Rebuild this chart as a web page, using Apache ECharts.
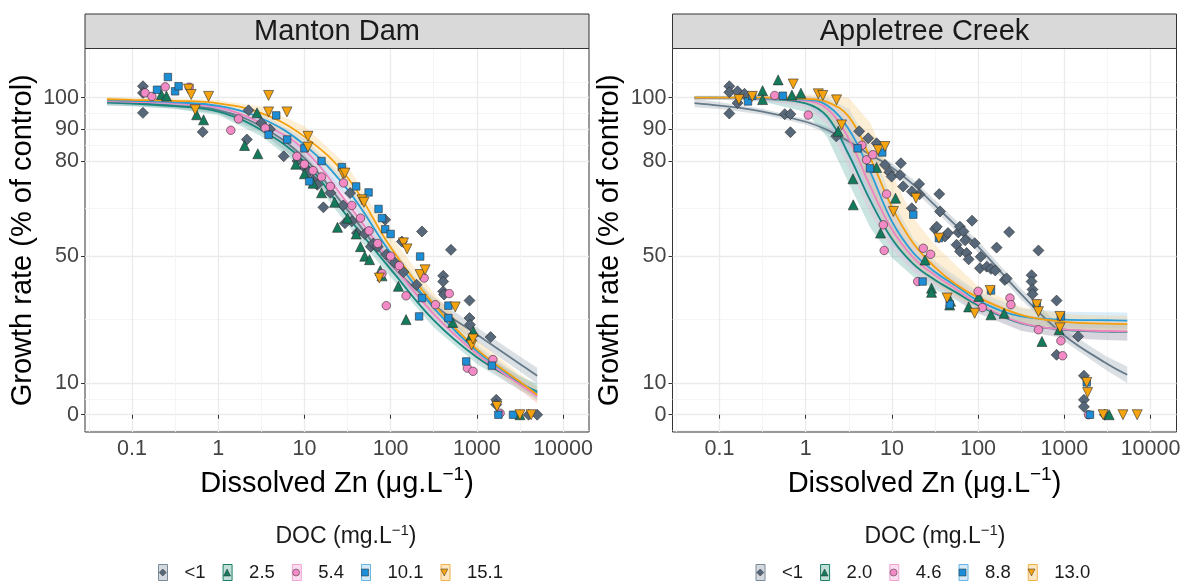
<!DOCTYPE html>
<html><head><meta charset="utf-8">
<script src="https://cdn.jsdelivr.net/npm/echarts@6/dist/echarts.min.js"></script>
<style>html,body{margin:0;padding:0;background:#fff}#c{width:1184px;height:587px}</style>
</head><body><div id="c"></div>
<script>
// ---------- tick labels / breaks ----------
const xTicks = [0.1, 1, 10, 100, 1000, 10000];
const xMinor = [0.0316, 0.316, 3.16, 31.6, 316, 3162];
const yTicks = [0, 10, 50, 80, 90, 100];
const yMinor = [-5, 5, 30, 65, 85, 95, 105];
const panelTitles = ['Manton Dam', 'Appletree Creek'];
const docLeft = ['<1', '2.5', '5.4', '10.1', '15.1'];
const docRight = ['<1', '2.0', '4.6', '8.8', '13.0'];

// ---------- Manton Dam observations [Zn ug/L, growth %] ----------
const mGray = [[0.134,103.6],[0.134,101.5],[0.134,95.2],[0.661,89.2],[2.25,96.0],[2.15,86.8],[3.16,92.0],[3.98,90.0],[5.75,81.5],[8.3,80.0],[10,78.0],[11.2,76.5],[12.6,74.0],[14.1,72.5],[16.6,65.4],[20,70.0],[28.2,66.0],[29.5,60.4],[33.9,69.9],[35.5,61.0],[40.7,57.3],[50.1,57.0],[58.9,53.0],[63.1,54.0],[70.8,53.0],[86.5,61.5],[89.1,50.5],[112,48.0],[135,54.6],[141,45.0],[200,41.0],[231,57.8],[407,43.8],[407,42.0],[407,38.9],[417,37.9],[501,52.0],[822,36.0],[822,30.5],[832,28.4],[1445,24.5],[1679,4.7],[1679,3.2],[3981,0],[5012,0]];
const mGreen = [[0.219,101.0],[0.251,100.5],[0.562,94.6],[0.676,93.0],[2.02,84.9],[2.82,95.2],[2.88,82.3],[7.94,79.0],[10,76.0],[12.6,73.0],[15.8,70.0],[22.4,67.0],[24.2,59.1],[31.6,62.0],[39.8,57.0],[44.7,53.0],[50.1,50.0],[56.9,48.9],[75.9,45.5],[79.4,43.8],[123,40.5],[151,30.0],[525,29.1],[851,24.8],[912,26.3],[3162,0]];
const mPink = [[0.142,101.5],[0.170,100.4],[0.243,103.4],[0.461,103.3],[1.40,89.7],[1.72,93.3],[3.51,90.4],[8.18,81.5],[10,79.0],[12.6,77.0],[15.8,75.0],[20,72.0],[28.4,73.1],[35.5,66.0],[44.7,62.0],[56.2,58.0],[70.8,54.0],[79.4,44.5],[89.1,34.4],[100,50.0],[126,47.0],[151,37.5],[245,43.1],[331,34.7],[479,38.2],[776,14.7],[902,13.7],[1538,17.4],[1862,0.5]];
const mBlue = [[0.195,102.5],[0.261,106.5],[0.316,102.0],[0.347,103.6],[3.84,88.3],[4.71,94.4],[6.31,86.8],[10,84.0],[11.4,73.6],[15.8,80.0],[27.2,78.1],[39.8,72.0],[55.5,70.1],[72.4,64.9],[79.4,62.0],[86.5,58.5],[100,57.0],[214,31.0],[220,49.9],[231,36.8],[468,34.4],[468,30.5],[753,16.8],[1496,15.5],[1778,0],[2630,0]];
const mOrange = [[0.452,102.7],[0.486,101.0],[0.541,96.2],[0.773,100.4],[3.84,100.7],[3.84,95.5],[6.27,95.5],[11.0,87.8],[11.0,84.4],[28.0,76.0],[29.5,76.2],[46.5,67.8],[49.0,67.0],[74.1,43.1],[141,54.2],[155,52.3],[220,44.2],[251,45.7],[562,34.0],[871,22.0],[902,23.9],[1710,2.6],[3162,0],[4266,0]];

// ---------- Appletree Creek observations ----------
const aGray = [[0.130,103.6],[0.130,101.7],[0.130,95.0],[0.162,102.0],[0.162,98.3],[0.195,101.2],[0.571,94.8],[0.665,94.8],[0.665,89.1],[2.26,87.8],[4.17,89.4],[5.31,87.2],[6.64,85.6],[8.30,78.8],[9.33,76.5],[9.93,75.1],[12.4,75.6],[12.7,79.3],[13.5,72.0],[17.0,70.4],[17.0,65.1],[20.7,72.8],[20.9,69.5],[31.6,58.6],[33.1,59.3],[35.4,69.6],[36.1,64.1],[41.2,56.2],[44.7,57.3],[56.2,53.6],[58.9,57.5],[61.5,59.3],[61.7,51.5],[67.6,57.8],[70.8,55.0],[73.5,51.0],[77.6,49.0],[85.1,61.2],[91.2,54.1],[105,46.2],[107,49.8],[126,46.7],[141,46.0],[158,45.5],[164,52.7],[204,42.5],[214,43.0],[229,57.6],[417,44.0],[417,42.0],[427,39.5],[427,38.0],[501,51.8],[813,36.0],[813,18.9],[1445,24.7],[1687,12.3],[1687,4.7],[1687,2.5],[2951,0]];
const aGreen = [[0.316,102.2],[0.316,99.4],[0.479,105.6],[0.692,100.8],[0.879,101.4],[2.38,89.4],[3.53,74.4],[3.56,66.2],[6.64,78.0],[7.38,57.3],[11.0,68.3],[24.2,48.8],[28.8,39.9],[28.8,38.6],[46.8,34.6],[47.9,35.8],[77.6,34.0],[102,37.3],[141,31.5],[200,32.0],[550,23.1],[871,26.8],[3311,0]];
const aPink = [[0.437,100.7],[1.07,94.5],[4.5,85.0],[5.08,80.4],[6.0,82.0],[7.94,59.9],[8.13,51.8],[8.67,69.6],[19.9,42.0],[23.1,52.5],[28.1,50.6],[100,38.9],[112,33.8],[234,36.8],[240,34.7],[501,26.8],[912,23.3],[955,18.6],[1905,0]];
const aBlue = [[0.214,98.8],[0.240,100.6],[0.543,100.6],[4.0,84.0],[5.56,77.7],[7.73,82.7],[17.7,63.1],[22.7,42.0],[35.1,55.7],[46.8,34.8],[141,39.2],[479,35.0],[912,31.0],[1820,10.2],[1982,0]];
const aOrange = [[0.168,99.4],[0.240,100.4],[0.716,104.3],[1.40,101.2],[1.58,100.7],[2.28,99.3],[2.61,91.4],[6.92,83.5],[8.30,84.6],[10.4,64.1],[19.0,68.3],[35.1,55.7],[43.7,36.8],[91.2,32.0],[138,39.2],[479,34.7],[501,32.5],[891,31.0],[891,27.4],[1820,10.2],[1862,7.0],[2818,0],[4786,0],[7000,0]];

// ---------- fitted curves & confidence bands ----------
const mFitX = [0.0513,0.1,0.316,1,3.16,10,31.6,100,316,1000,3162,5012];
const mFitGray   = [98.6,98.3,97.5,96.1,90.9,80.9,64.6,47.5,34.7,25.3,16.0,12.3];
const mLoGray    = [97.6,97.4,96.6,95.0,89.0,78.5,62.0,45.0,32.3,23.0,13.6,9.8];
const mHiGray    = [99.6,99.2,98.4,97.2,92.8,83.3,67.2,50.0,37.1,27.6,18.4,14.8];
const mFitGreen  = [98.4,98.1,97.3,95.6,89.8,79.8,62.5,45.9,29.8,18.1,10.0,7.3];
const mLoGreen   = [97.5,97.3,96.4,94.5,87.8,77.3,59.8,43.4,27.5,16.0,7.8,4.8];
const mHiGreen   = [99.3,98.9,98.2,96.7,91.8,82.3,65.2,48.4,32.1,20.2,12.2,9.8];
const mFitPink   = [98.9,98.7,98.2,96.9,91.9,83.5,66.7,48.3,31.7,19.2,9.5,5.8];
const mLoPink    = [98.2,98.0,97.5,96.0,90.3,81.3,64.2,46.0,29.5,17.2,7.6,3.6];
const mHiPink    = [99.6,99.4,98.9,97.8,93.5,85.7,69.2,50.6,33.9,21.2,11.4,8.0];
const mFitBlue   = [99.2,99.0,98.5,97.4,93.5,85.1,71.0,51.0,33.7,20.1,10.3,6.8];
const mLoBlue    = [98.5,98.4,97.9,96.6,92.0,83.0,68.5,48.5,31.5,18.2,8.5,4.6];
const mHiBlue    = [99.9,99.6,99.1,98.2,95.0,87.2,73.5,53.5,36.0,22.0,12.1,9.0];
const mFitOrange = [99.5,99.3,99.0,98.2,95.1,87.7,74.8,52.8,34.9,20.7,10.4,6.3];
const mLoOrange  = [98.8,98.7,98.3,97.2,93.0,84.5,71.0,49.0,31.5,18.0,8.0,3.8];
const mHiOrange  = [100.2,99.9,99.7,99.2,97.2,91.0,78.5,56.5,38.3,23.5,12.8,8.8];

const aFitX = [0.0513,0.1,0.316,1,1.78,3.16,5.62,10,17.8,31.6,56.2,100,316,1000,3162,5370];
const aFitGray   = [98.3,97.5,95.6,92.4,89.8,86.2,82.0,78.0,72.5,66.0,59.5,53.0,38.0,25.0,16.0,12.6];
const aLoGray    = [97.0,96.4,94.7,91.5,88.8,85.1,80.8,76.6,70.9,64.3,57.8,51.2,36.3,23.2,13.8,10.0];
const aHiGray    = [99.6,98.6,96.5,93.3,90.8,87.3,83.2,79.4,74.1,67.7,61.2,54.8,39.7,26.8,18.2,15.2];
const aFitGreen  = [99.9,99.9,99.6,98.2,94.0,82.0,67.5,55.5,47.5,42.5,38.5,34.5,28.8,26.8,26.2,26.1];
const aLoGreen   = [99.3,99.3,98.8,95.5,87.5,73.0,59.0,49.5,43.5,39.5,36.0,32.0,26.5,24.3,23.6,23.4];
const aHiGreen   = [100.5,100.5,100.3,100.0,98.5,90.0,76.0,61.5,51.5,45.5,41.0,37.0,31.1,29.3,28.8,28.8];
const aFitPink   = [99.9,99.9,99.7,99.0,96.5,87.0,72.0,58.5,49.5,44.0,39.5,35.0,29.0,26.9,26.4,26.3];
const aLoPink    = [99.3,99.3,99.0,97.0,91.5,78.0,63.5,52.0,45.0,40.5,36.5,32.0,26.5,24.0,23.5,23.3];
const aHiPink    = [100.5,100.5,100.4,100.5,99.5,94.0,80.5,65.0,54.0,47.5,42.5,38.0,31.5,29.8,29.3,29.3];
const aFitBlue   = [100,100,99.8,99.4,97.5,90.0,76.5,61.0,51.0,45.0,40.5,36.0,31.0,30.0,29.8,29.7];
const aLoBlue    = [99.4,99.4,99.1,97.8,93.0,81.0,67.5,54.0,46.5,41.5,37.5,33.2,28.5,27.5,27.3,27.2];
const aHiBlue    = [100.6,100.6,100.5,100.5,100.0,96.5,85.0,68.0,55.5,48.5,43.5,38.8,33.5,32.5,32.3,32.2];
const aFitOrange = [100,100,100,99.6,98.6,94.0,81.0,65.5,54.0,46.5,41.0,37.0,31.5,29.3,28.7,28.6];
const aLoOrange  = [99.4,99.4,99.3,98.0,94.5,85.0,70.0,55.0,47.0,41.5,37.0,33.5,29.0,26.8,26.2,26.0];
const aHiOrange  = [100.6,100.6,100.7,101.0,101.0,100.0,92.0,76.0,62.0,53.5,47.0,40.5,34.0,31.8,31.2,31.2];

// ---------- styles ----------
const FF = "'Liberation Sans', Arial, Helvetica, sans-serif";
const DOWN = 'path://M0,0L10,0L5,10Z';
const groups = [
  {sym:'diamond',  size:11,  fill:'#566879', line:'#667A8A', band:'#8797A6', key:'#D3D9DF', keyB:'#7A8A98'},
  {sym:'triangle', size:10,  fill:'#137A5C', line:'#16887E', band:'#4FA89C', key:'#BFDFD8', keyB:'#1B7F67'},
  {sym:'circle',   size:8.5, fill:'#F28AC6', line:'#EE84C2', band:'#F3AED8', key:'#FCDDEF', keyB:'#F2A3D2'},
  {sym:'rect',     size:7.5, fill:'#1D8DD6', line:'#2A9DD8', band:'#86C5EA', key:'#D4EAF8', keyB:'#66B5E4'},
  {sym:DOWN,       size:10,  fill:'#F5A30F', line:'#F5A00F', band:'#F7C878', key:'#FCE7C3', keyB:'#F3B14A'}
];

const panels = [
  {names: docLeft, pts:[mGray,mGreen,mPink,mBlue,mOrange], fx:mFitX,
   fit:[mFitGray,mFitGreen,mFitPink,mFitBlue,mFitOrange],
   lo:[mLoGray,mLoGreen,mLoPink,mLoBlue,mLoOrange],
   hi:[mHiGray,mHiGreen,mHiPink,mHiBlue,mHiOrange]},
  {names: docRight, pts:[aGray,aGreen,aPink,aBlue,aOrange], fx:aFitX,
   fit:[aFitGray,aFitGreen,aFitPink,aFitBlue,aFitOrange],
   lo:[aLoGray,aLoGreen,aLoPink,aLoBlue,aLoOrange],
   hi:[aHiGray,aHiGreen,aHiPink,aHiBlue,aHiOrange]}
];

const GRID_L = [85, 672.5], GRID_W = 504, GRID_T = 48.5, GRID_H = 383.5;
const X_MIN = 0.0285, X_MAX = 20000, Y_MIN = -5.45, Y_MAX = 115.5;

const grids = [], xAxes = [], yAxes = [], series = [], legends = [], graphics = [];

panels.forEach((p, gi) => {
  grids.push({left: GRID_L[gi], top: GRID_T, width: GRID_W, height: GRID_H,
    show: true, borderColor: '#333', borderWidth: 1, backgroundColor: '#fff', containLabel: false});
  xAxes.push({type:'log', logBase:10, gridIndex:gi, min:X_MIN, max:X_MAX,
    name:'Dissolved Zn (μg.L{s|−1})', nameLocation:'middle', nameGap:33,
    nameTextStyle:{fontSize:29, lineHeight:38, color:'#000', fontFamily:FF,
      rich:{s:{fontSize:19, color:'#000', fontFamily:FF, verticalAlign:'top'}}},
    axisLine:{show:false},
    axisTick:{show:true, length:4, lineStyle:{color:'#333', width:1}, customValues:xTicks},
    axisLabel:{customValues:xTicks, fontSize:21.5, color:'#444', margin:6, fontFamily:FF,
      formatter: v => String(+(+v).toPrecision(6))},
    splitLine:{show:true, lineStyle:{color:'#EBEBEB', width:1.3}}});
  xAxes.push({type:'log', logBase:10, gridIndex:gi, min:X_MIN, max:X_MAX,
    axisLine:{show:false}, axisTick:{show:false, customValues:xMinor}, axisLabel:{show:false},
    splitLine:{show:true, lineStyle:{color:'#F2F2F2', width:0.8}}});
  yAxes.push({type:'value', gridIndex:gi, min:Y_MIN, max:Y_MAX,
    name:'Growth rate (% of control)', nameLocation:'middle', nameRotate:90, nameGap:48,
    nameTextStyle:{fontSize:29, color:'#000', fontFamily:FF},
    axisLine:{show:false},
    axisTick:{show:true, length:4, lineStyle:{color:'#333', width:1}, customValues:yTicks},
    axisLabel:{customValues:yTicks, fontSize:21.5, color:'#444', margin:6, fontFamily:FF},
    splitLine:{show:true, lineStyle:{color:'#EBEBEB', width:1.3}}});
  yAxes.push({type:'value', gridIndex:gi, min:Y_MIN, max:Y_MAX,
    axisLine:{show:false}, axisTick:{show:false, customValues:yMinor}, axisLabel:{show:false},
    splitLine:{show:true, lineStyle:{color:'#F2F2F2', width:0.8}}});

  const xi = gi*2, yi = gi*2;
  groups.forEach((g, k) => {
    const xs = p.fx, lo = p.lo[k], hi = p.hi[k];
    series.push({type:'custom', name:'band-'+gi+'-'+k, xAxisIndex:xi, yAxisIndex:yi, z:1, silent:true,
      clip:true, data:[[xs[0], lo[0]]],
      renderItem:(params, api) => {
        const pts = [];
        for (let i = 0; i < xs.length; i++) pts.push(api.coord([xs[i], hi[i]]));
        for (let i = xs.length - 1; i >= 0; i--) pts.push(api.coord([xs[i], lo[i]]));
        return {type:'polygon', shape:{points:pts}, style:{fill:g.band, opacity:0.3}};
      }});
  });
  groups.forEach((g, k) => {
    series.push({type:'line', name:'fit-'+gi+'-'+k, xAxisIndex:xi, yAxisIndex:yi, z:3, silent:true,
      data: p.fx.map((x, i) => [x, p.fit[k][i]]), smooth:0.4, showSymbol:false, symbol:'none',
      lineStyle:{color:g.line, width:1.8}});
  });
  groups.forEach((g, k) => {
    series.push({type:'scatter', name:p.names[k], xAxisIndex:xi, yAxisIndex:yi, z:4, silent:true,
      data:p.pts[k], symbol:g.sym, symbolSize:g.size,
      itemStyle:{color:g.fill, borderColor:'#2E2E2E', borderWidth:0.6, opacity:1}});
  });

  // legends: key boxes + text, then symbols on top (same layout)
  const LL = [158, 755.5][gi];
  const LT = 563;
  legends.push({left:LL, top:LT, padding:0, orient:'horizontal', itemWidth:9, itemHeight:16, itemGap:17,
    selectedMode:false, textStyle:{fontSize:18.5, color:'#1A1A1A', fontFamily:FF, padding:[0,0,0,12]},
    data:p.names.map((n, k) => ({name:n, icon:'rect',
      itemStyle:{color:groups[k].key, borderColor:groups[k].keyB, borderWidth:1}}))});
  legends.push({left:LL + 1, top:LT, padding:0, orient:'horizontal', itemWidth:7, itemHeight:7, itemGap:17,
    selectedMode:false, textStyle:{fontSize:18.5, color:'rgba(0,0,0,0)', fontFamily:FF, padding:[0,0,0,14]},
    data:p.names.map((n, k) => ({name:n, icon:groups[k].sym,
      itemStyle:{color:groups[k].fill, borderColor:'#2E2E2E', borderWidth:0.5}}))});

  // strip
  graphics.push({type:'rect', shape:{x:GRID_L[gi], y:14, width:GRID_W, height:34.5},
    style:{fill:'#D9D9D9', stroke:'#333', lineWidth:1}, z:10});
  graphics.push({type:'text', x:GRID_L[gi] + GRID_W/2, y:31.5, z:11,
    style:{text:panelTitles[gi], fontSize:29, fontFamily:FF, fill:'#1A1A1A', align:'center', verticalAlign:'middle'}});
  // legend title
  graphics.push({type:'text', x:[346, 935][gi], y:537, z:11,
    style:{text:'DOC (mg.L{s|−1})', fontSize:23, lineHeight:28, fontFamily:FF, fill:'#1A1A1A', align:'center', verticalAlign:'middle',
      rich:{s:{fontSize:15, fontFamily:FF, fill:'#1A1A1A', verticalAlign:'top'}}}});
});

const chart = echarts.init(document.getElementById('c'), null, {renderer:'canvas'});
chart.setOption({
  animation:false, backgroundColor:'#fff',
  grid:grids, xAxis:xAxes, yAxis:yAxes, series:series, legend:legends,
  graphic:{elements:graphics}
});
</script>
</body></html>
